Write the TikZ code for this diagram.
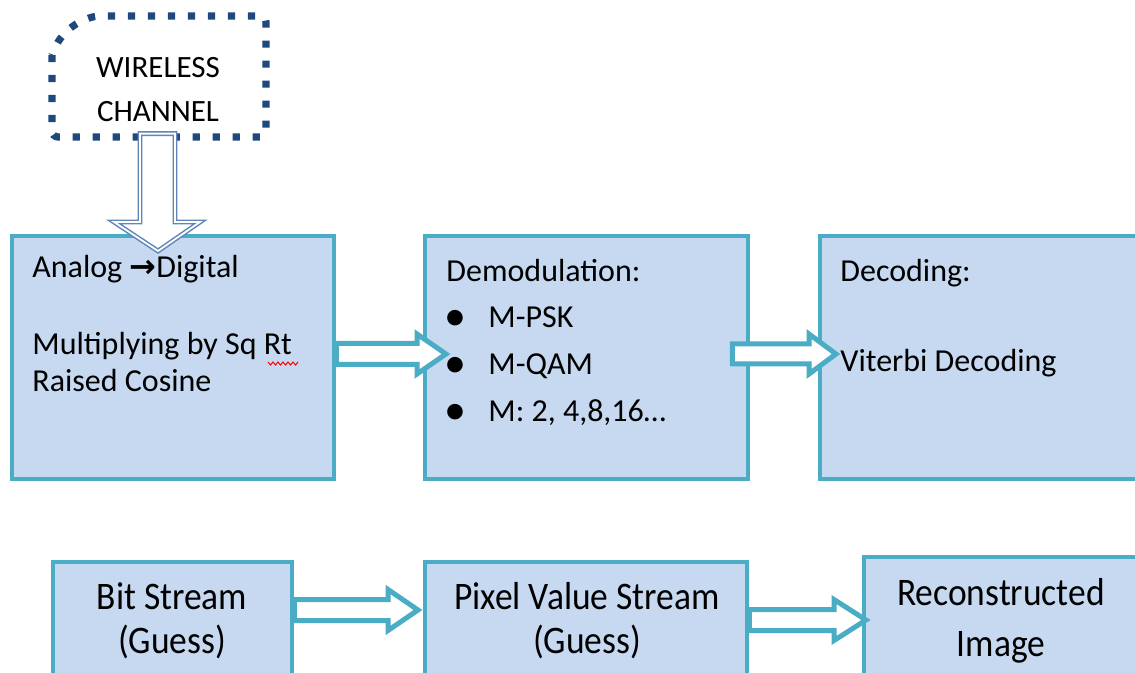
\documentclass[tikz,border=0pt]{standalone}
\usepackage{fontspec}
\setmainfont{Carlito}
\newfontfamily\condfont[FakeStretch=0.91]{Carlito}
\newfontfamily\symfont{DejaVu Sans}
\usetikzlibrary{calc}
\definecolor{boxfill}{HTML}{C6D9F1}
\definecolor{boxline}{HTML}{4BACC6}
\definecolor{dotblue}{HTML}{1F497D}
\definecolor{arrblue}{HTML}{5F86BA}
\definecolor{txt}{HTML}{000000}
\newcommand\blockarr[5]{%
  \draw[tarrow] ($(#1)+(0,-#3)$) -- ($(#2)+(-#5,-#3)$) -- ($(#2)+(-#5,-#4)$) -- (#2)
    -- ($(#2)+(-#5,#4)$) -- ($(#2)+(-#5,#3)$) -- ($(#1)+(0,#3)$) -- cycle;}
\begin{document}
\begin{tikzpicture}[x=0.5pt,y=-0.5pt,
  box/.style={draw=boxline, fill=boxfill, line width=2.4pt, rectangle, inner sep=0pt},
  lbl/.style={anchor=base west, inner sep=0pt, text=txt, font=\fontsize{16pt}{19pt}\selectfont},
  clbl/.style={anchor=base, inner sep=0pt, text=txt, font=\condfont\fontsize{19.5pt}{22pt}\selectfont},
  wlbl/.style={anchor=base, inner sep=0pt, text=txt, font=\fontsize{15.5pt}{18pt}\selectfont},
  bul/.style={anchor=center, inner sep=0pt, text=txt, font=\fontsize{22pt}{24pt}\selectfont},
  tarrow/.style={draw=boxline, fill=white, line width=2.5pt, line join=miter},
  harrow/.style={draw=arrblue, double=white, double distance=0.9pt, line width=0.75pt, line join=miter},
  dotbox/.style={draw=dotblue, line width=3.6pt, dash pattern=on 3.6pt off 6.4pt},
  wave/.style={draw=red, line width=0.5pt}
  ]
\useasboundingbox (0,0) rectangle (1135,673);
\fill[white] (0,0) rectangle (1135,673);

% wireless channel
\draw[dotbox] (52,55) [rounded corners=3pt] -- (52,137) -- (266,137) -- (266,16) [sharp corners] -- (98,16) .. controls (82,18) and (60,30) .. (52,55) -- cycle;
\node[wlbl] (wl1) at (158,78) {WIRELESS};
\node[wlbl] (wl2) at (158,122) {CHANNEL};

% boxes
\node[box, minimum width=161pt, minimum height=121.5pt] (b1) at (173,357.5) {};
\node[box, minimum width=161.5pt, minimum height=121.5pt] (b2) at (586.5,357.5) {};
\node[box, minimum width=165pt, minimum height=121.5pt] (b3) at (985,357.5) {};
\node[box, minimum width=119.5pt, minimum height=64pt] (b4) at (172.5,626) {};
\node[box, minimum width=161pt, minimum height=64pt] (b5) at (586,626) {};
\node[box, minimum width=143pt, minimum height=66.5pt] (b6) at (1007,623.5) {};

% arrows
\coordinate (t1) at (446,354);
\coordinate (t2) at (836,354);
\coordinate (t3) at (418,610);
\coordinate (t4) at (866,620);
\coordinate (s1) at (b1.east |- t1);
\coordinate (s2) at ($(b2.east |- t2)+(-18,0)$);
\coordinate (s3) at (b4.east |- t3);
\coordinate (s4) at (b5.east |- t4);
\blockarr{s1}{t1}{10.5}{20}{29}
\blockarr{s2}{t2}{10}{20}{27}
\blockarr{s3}{t3}{10.5}{20.5}{30}
\blockarr{s4}{t4}{10.5}{20.5}{32}

\coordinate (dtip) at (158,251);
\draw[harrow, fill=white] ($(wl2.south)+(-18,11)$) -- ($(wl2.south)+(17,11)$) -- ($(dtip)+(17,-29)$) -- ($(dtip)+(42,-29)$) -- (dtip) -- ($(dtip)+(-44,-29)$) -- ($(dtip)+(-18,-29)$) -- cycle;

% texts box1
\node[lbl] (a1) at (32,278) {Analog {\symfont\bfseries →}Digital};
\node[lbl] (a2) at (32,355) {Multiplying by Sq Rt};
\node[lbl] (a3) at (32,392) {Raised Cosine};
\draw[wave] (268,362) -- (270.5,365) -- (273,362) -- (275.5,365) -- (278,362) -- (280.5,365) -- (283,362) -- (285.5,365) -- (288,362) -- (290.5,365) -- (293,362) -- (295.5,365) -- (298,362);

% box2
\node[lbl] (d0) at (446,282) {Demodulation:};
\node[bul] (p1) at (455,320) {•};
\node[bul] (p2) at (455,367) {•};
\node[bul] (p3) at (455,414) {•};
\node[lbl] (d1) at (488,328) {M-PSK};
\node[lbl] (d2) at (488,375) {M-QAM};
\node[lbl] (d3) at (488,422) {M: 2, 4,8,16…};

% box3
\node[lbl] (c0) at (840,282) {Decoding:};
\node[lbl] (c1) at (840,372) {Viterbi Decoding};

% bottom
\node[clbl] (e1) at (172,609) {Bit Stream};
\node[clbl] (e2) at (172,653) {(Guess)};
\node[clbl] (f1) at (587,609) {Pixel Value Stream};
\node[clbl] (f2) at (587,653) {(Guess)};
\node[clbl] (g1) at (1001,605) {Reconstructed};
\node[clbl] (g2) at (1001,656) {Image};
\end{tikzpicture}
\end{document}
